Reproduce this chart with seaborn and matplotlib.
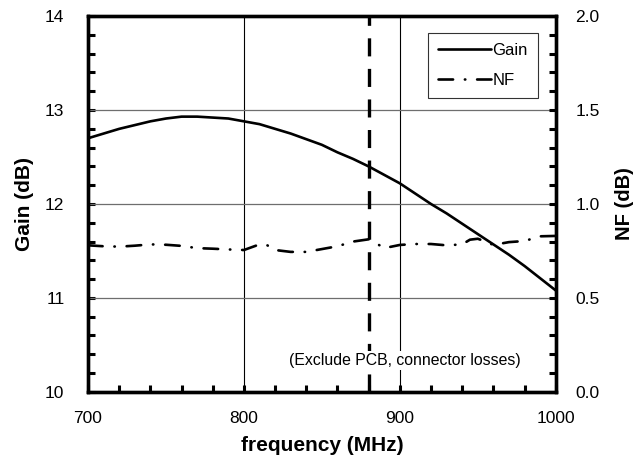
import matplotlib
matplotlib.use("Agg")
import matplotlib.pyplot as plt
import seaborn as sns
import pandas as pd
from matplotlib.ticker import MultipleLocator
from matplotlib.lines import Line2D

# Gain (left axis) vs frequency
freq_gain = [700, 710, 720, 730, 740, 750, 760, 770, 780, 790, 800, 810, 820,
             830, 840, 850, 860, 870, 880, 890, 900, 910, 920, 930, 940, 950,
             960, 970, 980, 990, 1000]
gain_db = [12.70, 12.75, 12.80, 12.84, 12.88, 12.91, 12.93, 12.93, 12.92, 12.91,
           12.88, 12.85, 12.80, 12.75, 12.69, 12.63, 12.55, 12.48, 12.40, 12.31,
           12.22, 12.11, 12.00, 11.90, 11.79, 11.68, 11.57, 11.46, 11.34, 11.21,
           11.08]

# Noise figure (right axis) vs frequency
freq_nf = [700, 710, 720, 730, 740, 750, 760, 770, 780, 790, 800, 805, 810, 815,
           820, 830, 840, 850, 860, 870, 880, 885, 890, 900, 910, 920, 930, 940,
           945, 950, 955, 960, 970, 980, 990, 1000]
nf_db = [0.780, 0.775, 0.773, 0.778, 0.785, 0.783, 0.777, 0.765, 0.762, 0.758,
         0.755, 0.770, 0.785, 0.780, 0.755, 0.745, 0.745, 0.760, 0.775, 0.800,
         0.812, 0.790, 0.765, 0.782, 0.787, 0.787, 0.780, 0.785, 0.810, 0.815,
         0.800, 0.782, 0.797, 0.803, 0.828, 0.830]

marker_freq = 880
note_text = "(Exclude PCB, connector losses)"

gain_df = pd.DataFrame({"frequency": freq_gain, "gain": gain_db})
nf_df = pd.DataFrame({"frequency": freq_nf, "nf": nf_db})

sns.set_style("white")
plt.rcParams["font.family"] = ["Liberation Sans", "DejaVu Sans"]
plt.rcParams["lines.scale_dashes"] = False
plt.rcParams["text.color"] = "black"
plt.rcParams["axes.labelcolor"] = "black"
plt.rcParams["xtick.color"] = "black"
plt.rcParams["ytick.color"] = "black"

fig = plt.figure(figsize=(6.38, 4.61), dpi=100)
ax = fig.add_axes([0.138, 0.150, 0.733, 0.815])
ax2 = ax.twinx()

# grid
for xv in [800, 900]:
    ax.axvline(xv, color="black", lw=0.8, zorder=1)
for yv in [11, 12, 13]:
    ax.axhline(yv, color="#6e6e6e", lw=0.9, zorder=1)

sns.lineplot(data=gain_df, x="frequency", y="gain", ax=ax, color="black",
             lw=1.9, zorder=3)
sns.lineplot(data=nf_df, x="frequency", y="nf", ax=ax2, color="black",
             lw=1.9, zorder=3)
nf_line = ax2.get_lines()[-1]
nf_line.set_dashes((10.5, 8.5, 0.3, 8.5))
nf_line.set_dash_capstyle("round")

ax.axvline(marker_freq, color="black", lw=2.4, dashes=(13, 9), zorder=2)

ax.text(903, 10.33, note_text, ha="center", va="center", fontsize=11.4,
        bbox=dict(facecolor="white", edgecolor="none", pad=1.5), zorder=4)

ax.set_xlim(700, 1000)
ax.set_ylim(10, 14)
ax2.set_ylim(0, 2.0)

ax.xaxis.set_major_locator(MultipleLocator(100))
ax.xaxis.set_minor_locator(MultipleLocator(20))
ax.yaxis.set_major_locator(MultipleLocator(1))
ax.yaxis.set_minor_locator(MultipleLocator(0.2))
ax2.yaxis.set_minor_locator(MultipleLocator(0.1))
ax2.set_yticks([0.0, 0.5, 1.0, 1.5, 2.0])
ax2.set_yticklabels(["0.0", "0.5", "1.0", "1.5", "2.0"])

ax.tick_params(axis="x", which="both", direction="in", length=5, width=2.2,
               pad=14, labelsize=12.5, bottom=True, top=False)
ax.tick_params(axis="y", which="both", direction="in", length=5, width=2.2,
               pad=17, labelsize=12.5, left=True, right=False)
ax2.tick_params(axis="y", which="both", direction="in", length=5, width=2.2,
                pad=14, labelsize=12.5, right=True, left=False)

ax.set_xlabel("frequency (MHz)", fontsize=15, fontweight="bold", labelpad=7)
ax.set_ylabel("Gain (dB)", fontsize=15, fontweight="bold", labelpad=8)
ax2.set_ylabel("NF (dB)", fontsize=14.5, fontweight="bold", labelpad=11)

for a in (ax, ax2):
    for s in a.spines.values():
        s.set_linewidth(2.4)
        s.set_color("black")
        s.set_visible(True)

handles = [Line2D([], [], color="black", lw=1.9),
           Line2D([], [], color="black", lw=1.9, dashes=(10.5, 8.5, 0.3, 8.5),
                  dash_capstyle="round")]
leg = ax2.legend(handles, ["Gain", "NF"], loc="upper right",
                 bbox_to_anchor=(0.962, 0.955), fontsize=12, frameon=True,
                 fancybox=False, edgecolor="black", handlelength=3.2,
                 handletextpad=0.1, labelspacing=0.9, borderpad=0.6,
                 borderaxespad=0)
leg.get_frame().set_linewidth(0.8)

fig.savefig("out.png", dpi=100)
